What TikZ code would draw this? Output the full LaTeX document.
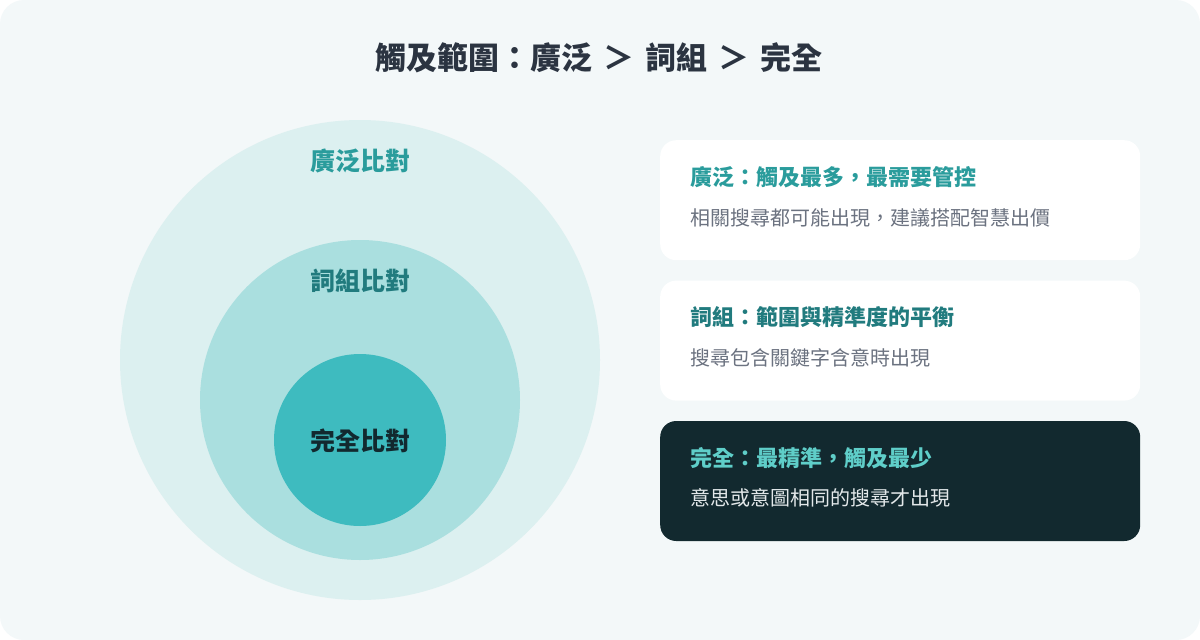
\documentclass[tikz,border=0pt]{standalone}
\usepackage{fontspec}
\setmainfont{Noto Sans CJK TC}
\usetikzlibrary{positioning}

\definecolor{pagebg}{HTML}{F3F8F9}
\definecolor{ringout}{HTML}{DCF0F0}
\definecolor{ringmid}{HTML}{AADFDF}
\definecolor{ringin}{HTML}{3EBBBF}
\definecolor{titleink}{HTML}{2B3441}
\definecolor{tealink}{HTML}{2A9C9C}
\definecolor{deepteal}{HTML}{217B7E}
\definecolor{nightink}{HTML}{12292F}
\definecolor{greyink}{HTML}{6B7280}
\definecolor{mintink}{HTML}{5FCEC9}
\definecolor{paleink}{HTML}{E3E8EA}

\tikzset{
  card/.style={rectangle, rounded corners=16pt, fill=white, draw=none,
    minimum width=480pt, minimum height=120pt, inner sep=0pt},
  darkcard/.style={card, fill=nightink},
  ring/.style={circle, draw=none, inner sep=0pt},
  ringlabel/.style={font=\fontsize{25}{29}\selectfont\bfseries},
  head/.style={anchor=west, inner sep=0pt, font=\fontsize{22}{26}\selectfont\bfseries},
  sub/.style={anchor=west, inner sep=0pt, font=\fontsize{20}{24}\selectfont, text=greyink}
}

\begin{document}
\begin{tikzpicture}[x=1pt, y=-1pt, node distance=20pt]
    % Fondo
    \fill[white] (0,0) rectangle (1200,640);
    \fill[pagebg, rounded corners=24pt] (0,0) rectangle (1200,640);
    \useasboundingbox (0,0) rectangle (1200,640);

    % Título
    \node (title) [font=\fontsize{31}{36}\selectfont\bfseries, text=titleink] at (599,58)
    {觸及範圍：廣泛\hspace{11pt}＞\hspace{11pt}詞組\hspace{11pt}＞\hspace{11pt}完全};

    % Círculos concéntricos
    \node (broadring) [ring, fill=ringout, minimum size=480pt] at (360,360) {};
    \node (phrasering) [ring, fill=ringmid, minimum size=320pt] at (360,400) {};
    \node (exactring) [ring, fill=ringin, minimum size=172pt] at (360,440) {};

    \node (broadlabel) [ringlabel, text=tealink] at (360,161) {廣泛比對};
    \node (phraselabel) [ringlabel, text=deepteal] at (360,281) {詞組比對};
    \node (exactlabel) [ringlabel, text=nightink] at (360,441) {完全比對};

    % Tarjetas
    \node (broad) [card, anchor=north west] at (660,140) {};
    \node (phrase) [card, below=of broad] {};
    \node (exact) [darkcard, below=of phrase] {};

    \node (broadhead) [head, text=tealink] at (690,177) {廣泛：觸及最多，最需要管控};
    \node (broadsub) [sub] at (690,218) {相關搜尋都可能出現，建議搭配智慧出價};

    \node (phrasehead) [head, text=deepteal] at (690,317) {詞組：範圍與精準度的平衡};
    \node (phrasesub) [sub] at (690,358) {搜尋包含關鍵字含意時出現};

    \node (exacthead) [head, text=mintink] at (690,458) {完全：最精準，觸及最少};
    \node (exactsub) [sub, text=paleink] at (690,498) {意思或意圖相同的搜尋才出現};
\end{tikzpicture}
\end{document}
